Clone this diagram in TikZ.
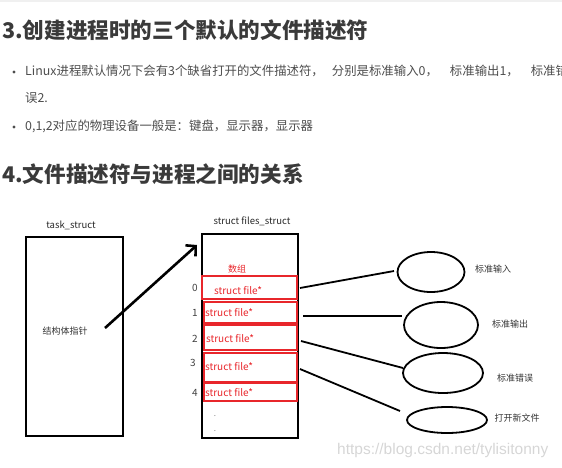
\documentclass[tikz,border=0pt]{standalone}
\usepackage{fontspec}
\setmainfont{Noto Sans CJK SC}
\newfontfamily\wmfont{Liberation Sans}
\usetikzlibrary{arrows.meta,shapes.geometric}
\definecolor{txtgray}{HTML}{4D4D4D}
\definecolor{hdgray}{HTML}{3A3A3A}
\definecolor{redc}{HTML}{E8262B}
\definecolor{wmgray}{HTML}{D6D6D6}
\tikzset{
  heading/.style={anchor=west,inner sep=0pt,font=\fontsize{21.6}{24}\selectfont\bfseries,text=hdgray},
  bullettext/.style={anchor=west,inner sep=0pt,font=\fontsize{12.4}{14}\selectfont,text=txtgray},
  bulletdot/.style={circle,fill=txtgray,inner sep=0pt,minimum size=3.2pt},
  dlabel/.style={inner sep=0pt,font=\fontsize{9.5}{11}\selectfont,text=black!85},
  cjklabel/.style={inner sep=0pt,font=\fontsize{9}{11}\selectfont,text=black!80},
  idx/.style={inner sep=0pt,font=\fontsize{10}{12}\selectfont,text=black!75},
  bigbox/.style={draw=black,line width=2.4pt,minimum width=96pt,minimum height=204pt,inner sep=0pt},
  taskbox/.style={draw=black,line width=1.6pt,minimum width=97pt,minimum height=199pt,inner sep=0pt},
  redbox/.style={draw=redc,line width=1.8pt,inner sep=0pt},
  redtext/.style={inner sep=0pt,font=\fontsize{10}{12}\selectfont,text=redc},
  dev/.style={ellipse,draw=black,line width=1.8pt,inner sep=0pt},
  conn/.style={draw=black,line width=1.8pt},
}
\begin{document}
\begin{tikzpicture}[x=1pt,y=-1pt]
\useasboundingbox (0,0) rectangle (562,467);
\clip (0,0) rectangle (562,467);
\fill[black!6] (0,0) rectangle (562,2);
% headings and bullets
\node[heading] (h3) at (2,30) {3.创建进程时的三个默认的文件描述符};
\node[bulletdot] (b1) at (14,72) {};
\node[bullettext] (t1) at (25,71) {Linux进程默认情况下会有3个缺省打开的文件描述符，\hspace{8pt}分别是标准输入0，\hspace{12pt}标准输出1，\hspace{12pt}标准错};
\node[bullettext] (t1b) at (25,98) {误2.};
\node[bulletdot] (b2) at (14,127) {};
\node[bullettext] (t2) at (25,126) {0,1,2对应的物理设备一般是：键盘，显示器，显示器};
\node[heading] (h4) at (2,174) {4.文件描述符与进程之间的关系};
% task_struct
\node[dlabel] (tl) at (71,225) {task\_struct};
\node[taskbox] (task) at (74.5,336.5) {};
\node[cjklabel] (ptr) at (65,331) {结构体指针};
% files_struct
\node[dlabel] (fl) at (252,221) {struct files\_struct};
\node[bigbox] (files) at (250,336) {};
\node[inner sep=0pt,font=\fontsize{9}{11}\selectfont,text=redc] (arr) at (237,269) {数组};
\node[redbox,minimum width=95pt,minimum height=23pt] (f0) at (249.5,287.5) {};
\node[redbox,minimum width=93pt,minimum height=21pt] (f1) at (250.5,312.5) {};
\node[redbox,minimum width=93pt,minimum height=25pt] (f2) at (250.5,337.5) {};
\node[redbox,minimum width=93pt,minimum height=29pt] (f3) at (250.5,367.5) {};
\node[redbox,minimum width=93pt,minimum height=18pt] (f4) at (250.5,392) {};
\node[redtext] (ft0) at (238,291) {struct file*};
\node[redtext] (ft1) at (229,313) {struct file*};
\node[redtext] (ft2) at (230,339) {struct file*};
\node[redtext] (ft3) at (229,367) {struct file*};
\node[redtext] (ft4) at (229,393) {struct file*};
\node[idx] (i0) at (195,288) {0};
\node[idx] (i1) at (195,313) {1};
\node[idx] (i2) at (195,339) {2};
\node[idx] (i3) at (193,363) {3};
\node[idx] (i4) at (195,393) {4};
\node[inner sep=0pt,font=\fontsize{8}{9}\selectfont,text=black!50] (d1) at (215,416) {.};
\node[inner sep=0pt,font=\fontsize{8}{9}\selectfont,text=black!50] (d2) at (215,431) {.};
% pointer arrow
\coordinate (as) at (105,328);
\coordinate (ae) at (197,245);
\draw[line width=2.6pt,-{Straight Barb[length=7pt,width=15pt,line width=2.6pt]}] (as) -- (ae);
% devices
\node[dev,minimum width=67pt,minimum height=40pt] (e1) at (431,272) {};
\node[dev,minimum width=74pt,minimum height=46pt] (e2) at (441,325) {};
\node[dev,minimum width=80pt,minimum height=40pt] (e3) at (443,373) {};
\node[dev,minimum width=80pt,minimum height=26pt] (e4) at (447,420) {};
\node[cjklabel] (l1) at (493,269) {标准输入};
\node[cjklabel] (l2) at (510,324) {标准输出};
\node[cjklabel] (l3) at (515,378) {标准错误};
\node[cjklabel] (l4) at (517,418) {打开新文件};
% connectors
\coordinate (c0) at (300,288);
\coordinate (c1) at (303,316);
\coordinate (c2) at (301,341);
\coordinate (c3) at (300,369);
\coordinate (d0) at (394,271);
\coordinate (dd1) at (402,316);
\coordinate (dd2) at (403,368);
\coordinate (dd3) at (400,411);
\draw[conn] (c0) -- (d0);
\draw[conn] (c1) -- (dd1);
\draw[conn] (c2) -- (dd2);
\draw[conn] (c3) -- (dd3);
% watermark
\node[inner sep=0pt,font=\wmfont\fontsize{15.5}{17}\selectfont,text=wmgray,anchor=west] (wm) at (337,450) {https://blog.csdn.net/tylisitonny};
\end{tikzpicture}
\end{document}
